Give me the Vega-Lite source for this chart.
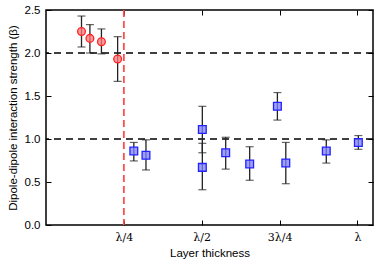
{
  "$schema": "https://vega.github.io/schema/vega-lite/v6.json",
  "width": 327,
  "height": 215,
  "autosize": "none",
  "padding": {"left": 46, "top": 10, "right": 9, "bottom": 34},
  "background": "white",
  "config": {
    "view": {"stroke": "black", "strokeWidth": 1.5},
    "axis": {"grid": false, "domain": false, "tickColor": "black", "tickSize": -5, "tickWidth": 1, "labelColor": "black", "titleColor": "black", "labelFontSize": 11.5, "titleFontSize": 11.5, "titleFontWeight": "normal", "labelFont": "Liberation Sans", "titleFont": "Liberation Sans"}
  },
  "datasets": {
    "pts": [
      {"x": 0.114, "y": 2.25, "lo": 2.07, "hi": 2.43, "s": "red"},
      {"x": 0.141, "y": 2.17, "lo": 2.00, "hi": 2.33, "s": "red"},
      {"x": 0.178, "y": 2.13, "lo": 1.99, "hi": 2.28, "s": "red"},
      {"x": 0.230, "y": 1.93, "lo": 1.67, "hi": 2.19, "s": "red"},
      {"x": 0.282, "y": 0.86, "lo": 0.745, "hi": 0.96, "s": "blue"},
      {"x": 0.321, "y": 0.81, "lo": 0.64, "hi": 0.99, "s": "blue"},
      {"x": 0.502, "y": 1.11, "lo": 0.84, "hi": 1.38, "s": "blue"},
      {"x": 0.502, "y": 0.67, "lo": 0.41, "hi": 0.95, "s": "blue"},
      {"x": 0.577, "y": 0.84, "lo": 0.65, "hi": 1.02, "s": "blue"},
      {"x": 0.654, "y": 0.71, "lo": 0.52, "hi": 0.91, "s": "blue"},
      {"x": 0.743, "y": 1.38, "lo": 1.22, "hi": 1.54, "s": "blue"},
      {"x": 0.770, "y": 0.72, "lo": 0.48, "hi": 0.96, "s": "blue"},
      {"x": 0.900, "y": 0.86, "lo": 0.72, "hi": 0.99, "s": "blue"},
      {"x": 1.003, "y": 0.96, "lo": 0.88, "hi": 1.04, "s": "blue"}
    ]
  },
  "layer": [
    {
      "data": {"values": [{"v": 1}, {"v": 2}]},
      "mark": {"type": "rule", "color": "black", "strokeWidth": 1.4, "strokeDash": [7, 5]},
      "encoding": {
        "y": {"field": "v", "type": "quantitative", "scale": {"domain": [0, 2.5], "nice": false, "zero": false},
          "axis": {"orient": "left", "values": [0, 0.5, 1, 1.5, 2, 2.5], "format": ".1f", "labelPadding": 11, "title": "Dipole-dipole interaction strength (β)", "titlePadding": 6}}
      }
    },
    {
      "data": {"values": [{"v": 0.25}]},
      "mark": {"type": "rule", "color": "#ff4d4d", "strokeWidth": 1.8, "strokeDash": [7, 4]},
      "encoding": {
        "x": {"field": "v", "type": "quantitative", "scale": {"domain": [0, 1.05], "nice": false, "zero": false},
          "axis": {"orient": "bottom", "values": [0.25, 0.5, 0.75, 1], "labelExpr": "datum.value == 0.25 ? 'λ/4' : datum.value == 0.5 ? 'λ/2' : datum.value == 0.75 ? '3λ/4' : 'λ'", "labelFont": "DejaVu Serif", "labelFontSize": 11, "labelPadding": 11, "title": "Layer thickness", "titlePadding": 5}}
      }
    },
    {
      "data": {"name": "pts"},
      "mark": {"type": "rule", "color": "#222222", "strokeWidth": 1.3},
      "encoding": {
        "x": {"field": "x", "type": "quantitative", "axis": {"orient": "top", "values": [0.25, 0.5, 0.75, 1], "labels": false, "title": null}},
        "y": {"field": "lo", "type": "quantitative", "axis": {"orient": "right", "values": [0, 0.5, 1, 1.5, 2, 2.5], "labels": false, "title": null}},
        "y2": {"field": "hi"}
      }
    },
    {
      "data": {"name": "pts"},
      "mark": {"type": "tick", "orient": "horizontal", "color": "#222222", "size": 8, "thickness": 1.2},
      "encoding": {
        "x": {"field": "x", "type": "quantitative", "axis": null},
        "y": {"field": "lo", "type": "quantitative", "axis": null}
      }
    },
    {
      "data": {"name": "pts"},
      "mark": {"type": "tick", "orient": "horizontal", "color": "#222222", "size": 8, "thickness": 1.2},
      "encoding": {
        "x": {"field": "x", "type": "quantitative", "axis": null},
        "y": {"field": "hi", "type": "quantitative", "axis": null}
      }
    },
    {
      "data": {"name": "pts"},
      "transform": [{"filter": "datum.s == 'red'"}],
      "mark": {"type": "point", "shape": "circle", "size": 60, "filled": true, "fill": "#ff7777", "fillOpacity": 0.75, "stroke": "#ff2222", "strokeWidth": 1.3, "opacity": 1},
      "encoding": {
        "x": {"field": "x", "type": "quantitative", "axis": null},
        "y": {"field": "y", "type": "quantitative", "axis": null}
      }
    },
    {
      "data": {"name": "pts"},
      "transform": [{"filter": "datum.s == 'blue'"}],
      "mark": {"type": "point", "shape": "square", "size": 60, "filled": true, "fill": "#7f7fff", "fillOpacity": 0.75, "stroke": "#2222ff", "strokeWidth": 1.3, "opacity": 1},
      "encoding": {
        "x": {"field": "x", "type": "quantitative", "axis": null},
        "y": {"field": "y", "type": "quantitative", "axis": null}
      }
    }
  ],
  "resolve": {"axis": {"x": "independent", "y": "independent"}}
}
